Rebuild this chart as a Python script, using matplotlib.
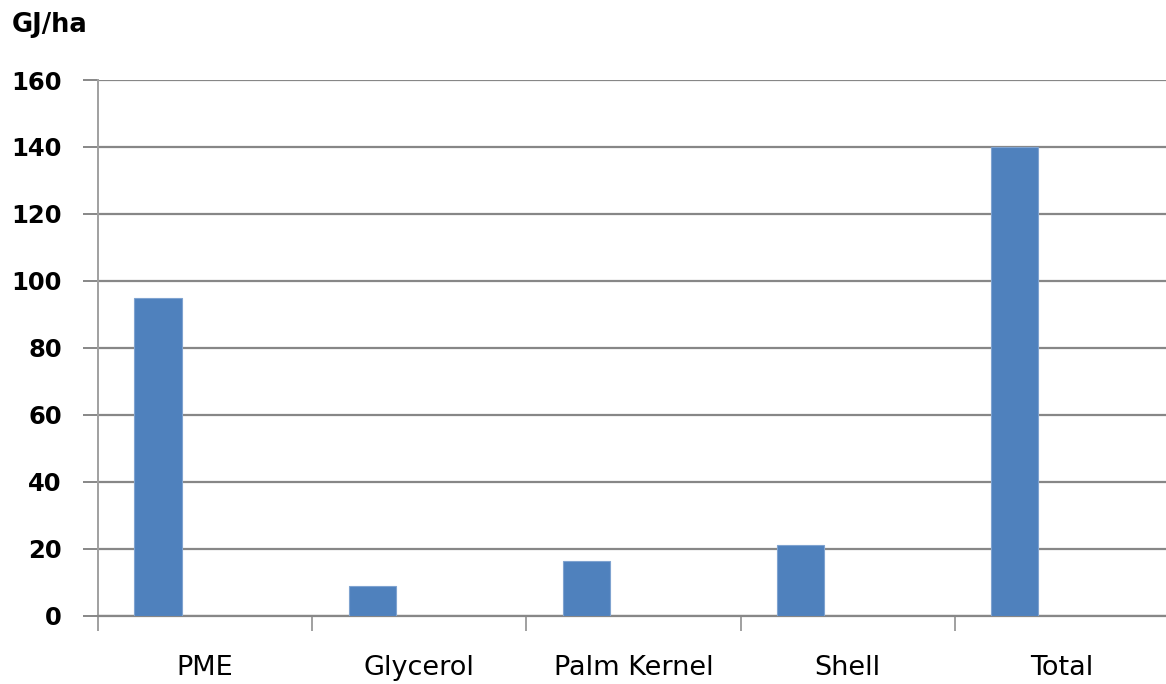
import numpy as np
import matplotlib.pyplot as plt

# energy yield per hectare, by product
categories = ["PME", "Glycerol", "Palm Kernel", "Shell", "Total"]
energy = [95, 8.9, 16.3, 21.2, 140]
yticks = [0, 20, 40, 60, 80, 100, 120, 140, 160]

bar_color = "#4F81BD"
grid_color = "#878787"

fig = plt.figure(figsize=(11.66, 6.84), dpi=100)
ax = fig.add_axes([98 / 1166, 1 - 615.7 / 684, 1071 / 1166, (615.7 - 80) / 684])

x = np.arange(len(categories))
# bars sit in the first of three slots within each category
ax.bar(x - 0.22, energy, width=0.22, color=bar_color, edgecolor="#7FA3D0",
       linewidth=0.8, zorder=3)

ax.set_xlim(-0.5, len(categories) - 0.5)
ax.set_ylim(0, 160)
ax.set_yticks(yticks)
ax.yaxis.grid(True, color=grid_color, linewidth=1.6, zorder=0)

for s in ["top", "right"]:
    ax.spines[s].set_visible(False)
ax.spines["left"].set_color("#A0A0A0")
ax.spines["left"].set_linewidth(1.4)
ax.spines["bottom"].set_color(grid_color)
ax.spines["bottom"].set_linewidth(1.6)

ax.tick_params(axis="y", length=11, width=1.4, color=grid_color, pad=15,
               labelsize=17.5)
for lab in ax.get_yticklabels():
    lab.set_fontweight("bold")

# category labels in the middle, tick marks on the boundaries
ax.set_xticks(x)
ax.set_xticklabels(categories, fontsize=19.5)
ax.tick_params(axis="x", which="major", length=0, pad=28)
ax.set_xticks(np.arange(-0.5, len(categories)), minor=True)
ax.tick_params(axis="x", which="minor", length=11, width=1.4, color="#A0A0A0")

fig.text(0.010, 0.963, "GJ/ha", fontsize=18.5, fontweight="bold", va="center")

fig.savefig("out.png", dpi=100)
